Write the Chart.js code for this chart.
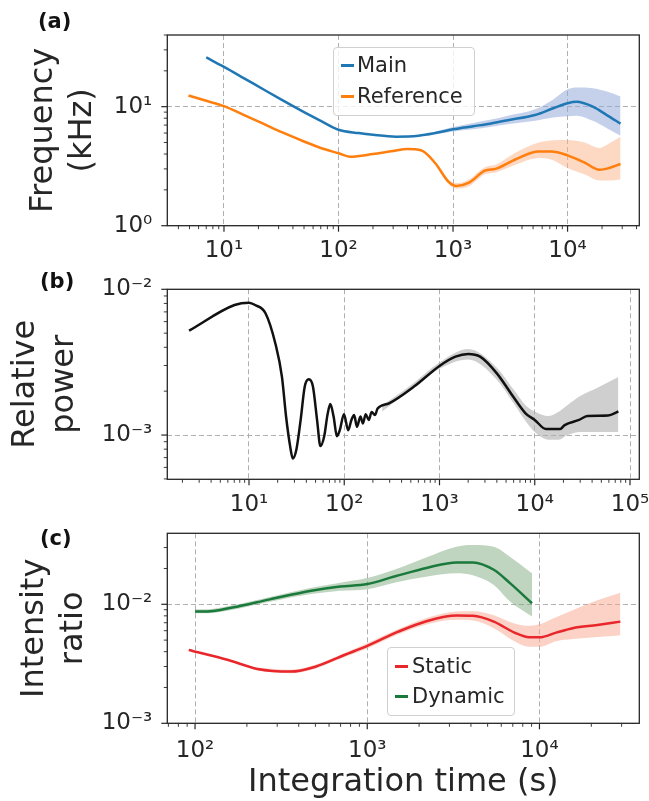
<!DOCTYPE html>
<html>
<head>
<meta charset="utf-8">
<script src="https://cdn.jsdelivr.net/npm/chart.js@4.4.0/dist/chart.umd.min.js"></script>
<style>
body { margin: 0; background: #fff; width: 649px; height: 801px; position: relative; overflow: hidden; font-family: "DejaVu Sans", sans-serif; color: #262626; }
canvas { position: absolute; left: 0; }
.lab { position: absolute; font-weight: bold; font-size: 21px; line-height: 21px; color: #111; }
.legend { position: absolute; border: 1px solid #d0d0d0; border-radius: 4px; background: rgba(255,255,255,0.8); font-size: 21px; box-sizing: border-box; }
.legend .row { position: absolute; left: 0; height: 24px; line-height: 24px; white-space: nowrap; }
.legend .mk { position: absolute; top: 11px; width: 13px; height: 3px; }
.legend .tx { position: absolute; }
</style>
</head>
<body>
<canvas id="ca" width="649" height="262" style="top:0"></canvas>
<canvas id="cb" width="649" height="258" style="top:262px"></canvas>
<canvas id="cc" width="649" height="281" style="top:520px"></canvas>

<div class="lab" style="left:38px;top:11px">(a)</div>
<div class="lab" style="left:40px;top:271px">(b)</div>
<div class="lab" style="left:40px;top:528px">(c)</div>

<div class="legend" style="left:333px;top:47px;width:142px;height:69px">
  <div class="row" style="top:5px"><span class="mk" style="left:7px;background:#1f77b4"></span><span class="tx" style="left:23px">Main</span></div>
  <div class="row" style="top:36px"><span class="mk" style="left:7px;background:#ff7f0e"></span><span class="tx" style="left:23px">Reference</span></div>
</div>
<div class="legend" style="left:387px;top:647px;width:128px;height:69px">
  <div class="row" style="top:6px"><span class="mk" style="left:7px;background:#e8262b"></span><span class="tx" style="left:24px">Static</span></div>
  <div class="row" style="top:36px"><span class="mk" style="left:7px;background:#1a7a3c"></span><span class="tx" style="left:24px">Dynamic</span></div>
</div>

<script>
// (a) frequency
const mainX = [7, 10, 15, 22, 32, 50, 70, 100, 150, 200, 316, 500, 700, 1000, 1500, 2100, 3000, 5200, 7500, 10000, 12000, 16600, 22000, 29000];
const mainY = [25.9, 21.6, 17.3, 14.0, 11.4, 9.0, 7.6, 6.4, 6.0, 5.8, 5.6, 5.7, 6.0, 6.45, 6.85, 7.2, 7.7, 8.5, 9.7, 10.7, 11.0, 10.0, 8.5, 7.2];
const mainBandX = [700, 1000, 1500, 2100, 3000, 5200, 7500, 10000, 12000, 16600, 22000, 29000];
const mainUp = [6.2, 6.75, 7.3, 7.75, 8.4, 9.5, 11.5, 14.0, 14.5, 14.3, 13.4, 12.2];
const mainLo = [5.85, 6.2, 6.45, 6.75, 7.1, 7.6, 8.1, 8.3, 8.4, 7.6, 6.6, 5.7];

const refX = [4.9, 7, 10, 15, 22, 32, 50, 70, 100, 126, 200, 300, 400, 525, 700, 910, 1070, 1380, 1900, 2350, 3500, 5600, 7200, 10000, 14000, 19000, 23000, 29000];
const refY = [12.4, 11.2, 10.1, 8.5, 7.2, 6.1, 5.1, 4.5, 4.06, 3.8, 4.0, 4.25, 4.4, 4.3, 3.35, 2.35, 2.16, 2.3, 2.9, 3.0, 3.6, 4.2, 4.2, 3.9, 3.4, 2.95, 3.05, 3.3];
const refBandX = [700, 910, 1070, 1380, 1900, 2350, 3500, 5600, 7200, 10000, 14000, 19000, 23000, 29000];
const refUp = [3.45, 2.45, 2.28, 2.45, 3.1, 3.25, 4.1, 5.0, 5.2, 5.25, 5.0, 4.5, 4.9, 5.6];
const refLo = [3.25, 2.25, 2.05, 2.15, 2.7, 2.8, 3.25, 3.7, 3.6, 3.05, 2.7, 2.4, 2.4, 2.45];

// (b) relative power
const powX = [2.35, 7.05, 10, 11.6, 14.9, 19, 22.2, 24.5, 27.1, 28.8, 31.5, 34.8, 38.5, 42.5, 46.9, 51.9, 56.2, 61.6, 66.6, 71.4, 77.3, 83.8, 89.8, 99.3, 110, 119, 127, 136, 148, 157, 168, 181, 194, 210, 224, 295, 540, 1000, 1470, 2000, 2670, 4000, 5950, 8000, 10000, 13100, 16900, 18500, 20600, 29200, 35700, 58700, 75500];
const powY = [5.2e-3, 7.8e-3, 8.1e-3, 7.8e-3, 6.85e-3, 4.2e-3, 2.5e-3, 1.34e-3, 0.83e-3, 0.69e-3, 0.80e-3, 1.26e-3, 2.15e-3, 2.41e-3, 2.15e-3, 1.26e-3, 0.84e-3, 0.98e-3, 1.37e-3, 1.63e-3, 1.34e-3, 0.98e-3, 1.08e-3, 1.39e-3, 1.08e-3, 1.27e-3, 1.37e-3, 1.14e-3, 1.34e-3, 1.2e-3, 1.39e-3, 1.27e-3, 1.44e-3, 1.37e-3, 1.52e-3, 1.65e-3, 2.15e-3, 2.98e-3, 3.45e-3, 3.6e-3, 3.45e-3, 2.65e-3, 1.83e-3, 1.41e-3, 1.27e-3, 1.1e-3, 1.1e-3, 1.1e-3, 1.17e-3, 1.27e-3, 1.35e-3, 1.36e-3, 1.45e-3];
const powBandX = [250, 500, 1000, 2000, 4000, 6000, 8000, 10000, 14000, 18000, 22000, 30000, 45000, 75500];
const powUp = [1.6e-3, 2.2e-3, 3.15e-3, 3.9e-3, 2.9e-3, 2.05e-3, 1.6e-3, 1.45e-3, 1.35e-3, 1.45e-3, 1.6e-3, 1.85e-3, 2.1e-3, 2.5e-3];
const powLo = [1.45e-3, 2.05e-3, 2.85e-3, 3.3e-3, 2.4e-3, 1.65e-3, 1.25e-3, 1.05e-3, 0.93e-3, 0.93e-3, 1.0e-3, 1.05e-3, 1.05e-3, 1.05e-3];

// (c) intensity ratio
const dynX = [100, 118, 165, 272, 473, 697, 1000, 1435, 2236, 3300, 4110, 5430, 6770, 9050];
const dynY = [8.7e-3, 8.7e-3, 9.4e-3, 1.10e-2, 1.30e-2, 1.41e-2, 1.48e-2, 1.71e-2, 2.03e-2, 2.25e-2, 2.25e-2, 1.95e-2, 1.50e-2, 1.02e-2];
const dynUp = [9.1e-3, 9.1e-3, 9.8e-3, 1.15e-2, 1.38e-2, 1.52e-2, 1.66e-2, 1.95e-2, 2.5e-2, 3.05e-2, 3.15e-2, 3.05e-2, 2.5e-2, 1.82e-2];
const dynLo = [8.4e-3, 8.4e-3, 9.0e-3, 1.05e-2, 1.22e-2, 1.30e-2, 1.34e-2, 1.52e-2, 1.71e-2, 1.82e-2, 1.75e-2, 1.45e-2, 1.05e-2, 7.9e-3];

const statX = [92, 156, 230, 358, 500, 737, 1000, 1515, 2230, 3300, 4110, 5430, 7160, 8710, 10000, 12500, 15600, 21700, 29500];
const statY = [4.13e-3, 3.4e-3, 2.86e-3, 2.72e-3, 2.99e-3, 3.75e-3, 4.47e-3, 5.89e-3, 7.24e-3, 8.04e-3, 8.0e-3, 7.15e-3, 5.78e-3, 5.28e-3, 5.28e-3, 5.78e-3, 6.3e-3, 6.7e-3, 7.15e-3];
const statBandX = [230, 358, 500, 737, 1000, 1515, 2230, 3300, 4110, 5430, 7160, 8710, 10000, 12500, 15600, 21700, 29500];
const statUp = [2.95e-3, 2.82e-3, 3.1e-3, 3.9e-3, 4.7e-3, 6.2e-3, 7.7e-3, 8.7e-3, 8.75e-3, 8.1e-3, 6.9e-3, 6.6e-3, 6.8e-3, 7.8e-3, 8.9e-3, 1.08e-2, 1.25e-2];
const statLo = [2.78e-3, 2.63e-3, 2.88e-3, 3.6e-3, 4.25e-3, 5.6e-3, 6.8e-3, 7.4e-3, 7.3e-3, 6.3e-3, 4.9e-3, 4.4e-3, 4.4e-3, 4.9e-3, 5.1e-3, 5.3e-3, 5.5e-3];

const INK = '#262626';
Chart.defaults.font.family = '"DejaVu Sans", sans-serif';
Chart.defaults.color = INK;

const sup = {'-': '\u207b', '0': '\u2070', '1': '\u00b9', '2': '\u00b2', '3': '\u00b3', '4': '\u2074', '5': '\u2075'};
function powLabel(v) {
    const e = Math.round(Math.log10(v));
    return '10' + String(e).split('').map(c => sup[c]).join('');
}

function decadesIn(min, max) {
    let out = [];
    for (let e = Math.floor(Math.log10(min)); e <= Math.ceil(Math.log10(max)); e++) {
        let v = Math.pow(10, e);
        if (v >= min * 0.9999 && v <= max * 1.0001) out.push({ value: v });
    }
    return out;
}

function pts(xs, ys) {
    return xs.map((x, i) => ({ x: x, y: ys[i] }));
}

function lineSet(xs, ys, color) {
    return { data: pts(xs, ys), borderColor: color, borderWidth: 2.5, pointRadius: 0, fill: false, cubicInterpolationMode: 'monotone' };
}

function bandSets(xs, up, lo, color) {
    return [
        { data: pts(xs, up), borderWidth: 0, pointRadius: 0, backgroundColor: color, fill: '+1', cubicInterpolationMode: 'monotone' },
        { data: pts(xs, lo), borderWidth: 0, pointRadius: 0, fill: false, cubicInterpolationMode: 'monotone' }
    ];
}

// frame + matplotlib style outward tick marks
const frameTicks = {
    id: 'frameTicks',
    afterDraw(chart) {
        const { ctx, chartArea: a, scales } = chart;
        ctx.save();
        ctx.strokeStyle = INK;
        [scales.x, scales.y].forEach(s => {
            for (let e = Math.floor(Math.log10(s.min)); e <= Math.ceil(Math.log10(s.max)); e++) {
                for (let m = 1; m <= 9; m++) {
                    let v = m * Math.pow(10, e);
                    if (v < s.min * 0.9999 || v > s.max * 1.0001) continue;
                    let len = m === 1 ? 6 : 3.5;
                    ctx.lineWidth = m === 1 ? 1.2 : 0.9;
                    let p = s.getPixelForValue(v);
                    ctx.beginPath();
                    if (s.axis === 'x') { ctx.moveTo(p, a.bottom); ctx.lineTo(p, a.bottom + len); }
                    else { ctx.moveTo(a.left, p); ctx.lineTo(a.left - len, p); }
                    ctx.stroke();
                }
            }
        });
        ctx.lineWidth = 1.3;
        ctx.strokeRect(a.left, a.top, a.right - a.left, a.bottom - a.top);
        ctx.restore();
    }
};

function axis(min, max, pad, extra) {
    return Object.assign({
        type: 'logarithmic',
        min: min,
        max: max,
        bounds: 'data',
        afterBuildTicks: s => { s.ticks = decadesIn(min, max); },
        grid: { color: '#b0b0b0', lineWidth: 1, drawTicks: false },
        border: { display: false, dash: [5, 3] },
        ticks: { autoSkip: false, maxRotation: 0, minRotation: 0, padding: pad, font: { size: 23 }, color: INK, callback: v => powLabel(v) }
    }, extra);
}

function makePanel(id, datasets, p) {
    return new Chart(document.getElementById(id), {
        type: 'line',
        data: { datasets: datasets },
        options: {
            responsive: false,
            animation: false,
            devicePixelRatio: 1,
            layout: { padding: { left: 0, right: 649 - 639.3, top: p.top, bottom: 0 } },
            plugins: { legend: { display: false }, tooltip: { enabled: false } },
            scales: {
                x: axis(p.xr[0], p.xr[1], p.xpad, {
                    afterFit: s => { s.height = p.xh; s.paddingLeft = 0; s.paddingRight = 0; },
                    title: p.xTitle ? { display: true, text: p.xTitle, font: { size: 32, lineHeight: 1.1 }, padding: { top: 0, bottom: 1 }, color: INK } : { display: false }
                }),
                y: axis(p.yr[0], p.yr[1], 15, {
                    afterFit: s => { s.width = 167.3; s.paddingTop = 0; s.paddingBottom = 0; },
                    title: { display: true, text: p.yTitle, font: { size: 32, lineHeight: 1.2 }, padding: { top: p.tpad, bottom: 0 }, color: INK }
                })
            }
        },
        plugins: [frameTicks]
    });
}

makePanel('ca', [
    lineSet(mainX, mainY, '#1f77b4'),
    lineSet(refX, refY, '#ff7f0e'),
    ...bandSets(mainBandX, mainUp, mainLo, 'rgba(150,172,218,0.55)'),
    ...bandSets(refBandX, refUp, refLo, 'rgba(252,178,135,0.5)')
], { top: 35, xr: [3.2, 42300], yr: [1, 40], xh: 36.3, xpad: 12, yTitle: ['Frequency', '(kHz)'], tpad: 24.8 });

makePanel('cb', [
    lineSet(powX, powY, '#111111'),
    ...bandSets(powBandX, powUp, powLo, 'rgba(175,175,175,0.6)')
], { top: 27.3, xr: [1.388, 125200], yr: [4.97e-4, 0.01], xh: 40.7, xpad: 12, yTitle: ['Relative', 'power'], tpad: 6.8 });

makePanel('cc', [
    lineSet(statX, statY, '#e8262b'),
    lineSet(dynX, dynY, '#1a7a3c'),
    ...bandSets(statBandX, statUp, statLo, 'rgba(248,165,140,0.5)'),
    ...bandSets(dynX, dynUp, dynLo, 'rgba(130,172,130,0.5)')
], { top: 13.3, xr: [69, 38000], yr: [1e-3, 0.0395], xh: 77.7, xpad: 14, yTitle: ['Intensity', 'ratio'], xTitle: 'Integration time (s)', tpad: 15.8 });
</script>
</body>
</html>
